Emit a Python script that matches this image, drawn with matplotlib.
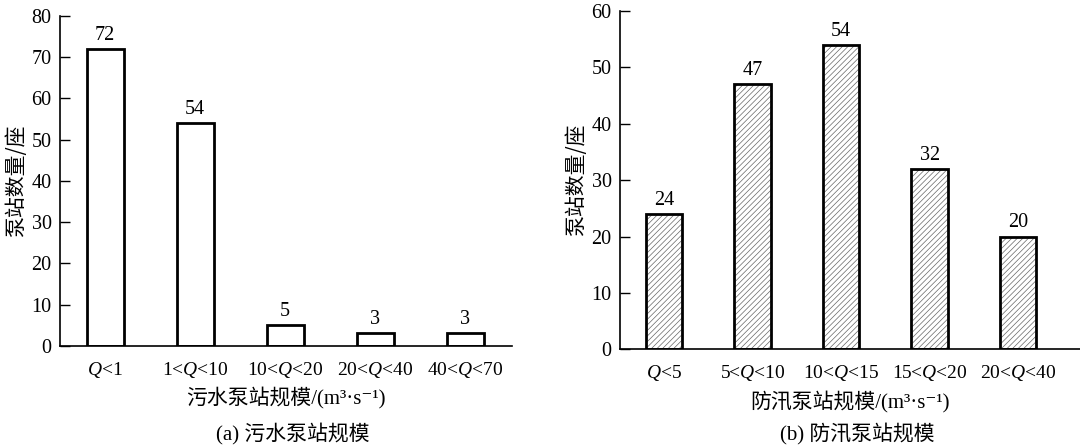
import matplotlib.pyplot as plt

plt.rcParams['font.family'] = ['Liberation Serif', 'Noto Sans CJK SC', 'DejaVu Serif']
plt.rcParams['mathtext.fontset'] = 'custom'
plt.rcParams['mathtext.rm'] = 'Liberation Serif'
plt.rcParams['mathtext.it'] = 'Liberation Serif:italic'
plt.rcParams['hatch.linewidth'] = 0.5

# data
sewage_labels = ['$Q$<1', '1<$Q$<10', '10<$Q$<20', '20<$Q$<40', '40<$Q$<70']
sewage_counts = [72, 54, 5, 3, 3]

flood_labels = ['$Q$<5', '5<$Q$<10', '10<$Q$<15', '15<$Q$<20', '20<$Q$<40']
flood_counts = [24, 47, 54, 32, 20]

fig = plt.figure(figsize=(10.8, 4.47), dpi=100)
ax1 = fig.add_axes([0.0556, 0.2266, 0.4184, 0.7374])
ax2 = fig.add_axes([0.574, 0.2186, 0.426, 0.7568])


def draw(ax, labels, counts, ymax, xmax, hatch, xlabel):
    x = range(len(counts))
    if hatch:
        # hatch drawn in grey first, then the black outline on top
        ax.bar(x, counts, width=0.41, color='white', edgecolor='#666666',
               linewidth=0, hatch=hatch)
        ax.bar(x, counts, width=0.41, fill=False, edgecolor='black', linewidth=2)
    else:
        ax.bar(x, counts, width=0.41, color='white', edgecolor='black', linewidth=2)
    for i, v in zip(x, counts):
        ax.text(i, v + ymax * 0.012, str(v), ha='center', va='bottom', fontsize=14.5)
    ax.set_xlim(-0.5, xmax)
    ax.set_ylim(0, ymax)
    ax.set_xticks(list(x))
    ax.set_xticklabels(labels, fontsize=14)
    ax.set_yticks(range(0, ymax + 1, 10))
    ax.tick_params(axis='x', length=0, pad=10)
    ax.tick_params(axis='y', direction='in', length=7, width=1, labelsize=14.5, pad=6)
    for s in ['top', 'right']:
        ax.spines[s].set_visible(False)
    ax.spines['left'].set_linewidth(1.2)
    ax.spines['bottom'].set_linewidth(1.2)
    ax.set_ylabel('泵站数量/座', fontsize=15, family=['Noto Sans CJK SC'], labelpad=3)
    ax.set_xlabel(xlabel, fontsize=15, labelpad=5)


draw(ax1, sewage_labels, sewage_counts, 80, 4.52, None, '污水泵站规模/(m³·s⁻¹)')
draw(ax2, flood_labels, flood_counts, 60, 4.7, '//////', '防汛泵站规模/(m³·s⁻¹)')

fig.text(0.271, 0.031, '(a) 污水泵站规模', ha='center', va='center', fontsize=15)
fig.text(0.794, 0.031, '(b) 防汛泵站规模', ha='center', va='center', fontsize=15)

fig.savefig('out.png', dpi=100)
